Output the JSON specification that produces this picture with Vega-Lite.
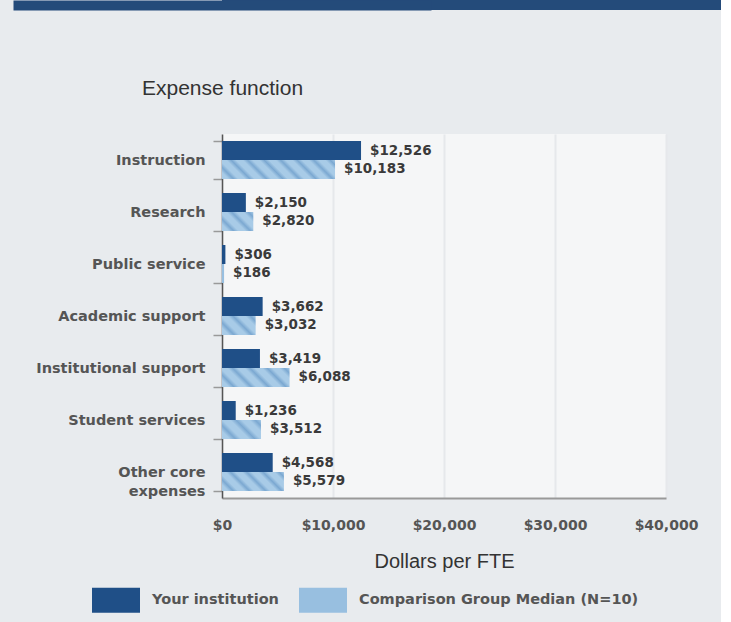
{
  "$schema": "https://vega.github.io/schema/vega-lite/v6.json",
  "background": "#e8ebee",
  "padding": {"left": 13, "top": 0, "right": 0, "bottom": 10},
  "spacing": 68,
  "config": {"font": "DejaVu Sans"},
  "vconcat": [
    {
      "width": 499,
      "height": 10,
      "view": {"fill": "#244b7a", "stroke": null},
      "data": {"values": [{"k": 1}]},
      "mark": {"type": "point", "opacity": 0, "size": 0},
      "encoding": {
        "y": {"field": "k", "type": "quantitative",
              "axis": {"title": null, "labels": false, "ticks": false, "grid": false, "domain": true, "domainWidth": 418, "domainColor": "#244b7a"}}
      }
    },
    {
      "width": 444,
      "height": 364,
      "view": {"fill": "#f5f6f7", "stroke": null},
      "title": {"text": "Expense function", "anchor": "start", "frame": "group", "dx": -80, "offset": 27, "font": "Liberation Sans", "fontSize": 21, "fontWeight": "normal", "color": "#333333"},
      "data": {"values": [
        {"category": "Instruction", "series": "Your institution", "value": 12526},
        {"category": "Instruction", "series": "Comparison Group Median (N=10)", "value": 10183},
        {"category": "Research", "series": "Your institution", "value": 2150},
        {"category": "Research", "series": "Comparison Group Median (N=10)", "value": 2820},
        {"category": "Public service", "series": "Your institution", "value": 306},
        {"category": "Public service", "series": "Comparison Group Median (N=10)", "value": 186},
        {"category": "Academic support", "series": "Your institution", "value": 3662},
        {"category": "Academic support", "series": "Comparison Group Median (N=10)", "value": 3032},
        {"category": "Institutional support", "series": "Your institution", "value": 3419},
        {"category": "Institutional support", "series": "Comparison Group Median (N=10)", "value": 6088},
        {"category": "Student services", "series": "Your institution", "value": 1236},
        {"category": "Student services", "series": "Comparison Group Median (N=10)", "value": 3512},
        {"category": "Other core expenses", "series": "Your institution", "value": 4568},
        {"category": "Other core expenses", "series": "Comparison Group Median (N=10)", "value": 5579}
      ]},
      "encoding": {
        "y": {
          "field": "category", "type": "nominal",
          "sort": ["Instruction", "Research", "Public service", "Academic support", "Institutional support", "Student services", "Other core expenses"],
          "scale": {"paddingInner": 0.27, "paddingOuter": 0.135},
          "axis": {
            "title": null, "grid": false,
            "domainColor": "#555555", "domainWidth": 1.5,
            "ticks": true, "tickBand": "extent", "tickSize": 9, "tickColor": "#999999", "tickWidth": 1.5,
            "labelPadding": 8, "labelFont": "DejaVu Sans", "labelFontSize": 14.5, "labelFontWeight": "bold", "labelColor": "#555555",
            "labelExpr": "datum.label == 'Other core expenses' ? ['Other core', 'expenses'] : datum.label",
            "labelLineHeight": 19, "labelLimit": 300, "minExtent": 209
          }
        },
        "yOffset": {
          "field": "series", "type": "nominal",
          "sort": ["Your institution", "Comparison Group Median (N=10)"],
          "scale": {"paddingInner": 0, "paddingOuter": 0}
        },
        "x": {
          "field": "value", "type": "quantitative",
          "scale": {"domain": [0, 40000], "nice": false},
          "axis": {
            "title": "Dollars per FTE", "values": [0, 10000, 20000, 30000, 40000], "format": "$,.0f",
            "grid": true, "gridColor": "#e6e8eb", "gridWidth": 2, "ticks": false,
            "domainColor": "#999999", "domainWidth": 2,
            "labelPadding": 20, "labelFont": "DejaVu Sans", "labelFontSize": 14, "labelFontWeight": "bold", "labelColor": "#555555", "labelFlush": false,
            "titleFont": "Liberation Sans", "titleFontSize": 20, "titleFontWeight": "normal", "titleColor": "#333333", "titlePadding": 19
          }
        }
      },
      "layer": [
        {
          "mark": {"type": "bar", "strokeWidth": 0},
          "encoding": {
            "fill": {
              "condition": [
                {"test": "datum.series === 'Comparison Group Median (N=10)' && datum.category === 'Instruction'",
                 "value": {"gradient": "linear", "x1": 0, "y1": 1, "x2": 1.136, "y2": 0.809, "stops": [
                   {"offset": 0, "color": "#a8cbe7"}, {"offset": 0.05, "color": "#a8cbe7"}, {"offset": 0.0875, "color": "#7ba8d1"}, {"offset": 0.125, "color": "#a8cbe7"},
                   {"offset": 0.175, "color": "#a8cbe7"}, {"offset": 0.2125, "color": "#7ba8d1"}, {"offset": 0.25, "color": "#a8cbe7"},
                   {"offset": 0.3, "color": "#a8cbe7"}, {"offset": 0.3375, "color": "#7ba8d1"}, {"offset": 0.375, "color": "#a8cbe7"},
                   {"offset": 0.425, "color": "#a8cbe7"}, {"offset": 0.4625, "color": "#7ba8d1"}, {"offset": 0.5, "color": "#a8cbe7"},
                   {"offset": 0.55, "color": "#a8cbe7"}, {"offset": 0.5875, "color": "#7ba8d1"}, {"offset": 0.625, "color": "#a8cbe7"},
                   {"offset": 0.675, "color": "#a8cbe7"}, {"offset": 0.7125, "color": "#7ba8d1"}, {"offset": 0.75, "color": "#a8cbe7"},
                   {"offset": 0.8, "color": "#a8cbe7"}, {"offset": 0.8375, "color": "#7ba8d1"}, {"offset": 0.875, "color": "#a8cbe7"},
                   {"offset": 0.925, "color": "#a8cbe7"}, {"offset": 0.9625, "color": "#7ba8d1"}, {"offset": 1, "color": "#a8cbe7"}]}},
                {"test": "datum.series === 'Comparison Group Median (N=10)' && datum.category === 'Research'",
                 "value": {"gradient": "linear", "x1": 0, "y1": 1, "x2": 1.174, "y2": 0.287, "stops": [
                   {"offset": 0, "color": "#a8cbe7"}, {"offset": 0.1333, "color": "#a8cbe7"}, {"offset": 0.2333, "color": "#7ba8d1"}, {"offset": 0.3333, "color": "#a8cbe7"},
                   {"offset": 0.4667, "color": "#a8cbe7"}, {"offset": 0.5667, "color": "#7ba8d1"}, {"offset": 0.6667, "color": "#a8cbe7"},
                   {"offset": 0.8, "color": "#a8cbe7"}, {"offset": 0.9, "color": "#7ba8d1"}, {"offset": 1, "color": "#a8cbe7"}]}},
                {"test": "datum.series === 'Comparison Group Median (N=10)' && datum.category === 'Academic support'",
                 "value": {"gradient": "linear", "x1": 0, "y1": 1, "x2": 1.187, "y2": 0.331, "stops": [
                   {"offset": 0, "color": "#a8cbe7"}, {"offset": 0.1333, "color": "#a8cbe7"}, {"offset": 0.2333, "color": "#7ba8d1"}, {"offset": 0.3333, "color": "#a8cbe7"},
                   {"offset": 0.4667, "color": "#a8cbe7"}, {"offset": 0.5667, "color": "#7ba8d1"}, {"offset": 0.6667, "color": "#a8cbe7"},
                   {"offset": 0.8, "color": "#a8cbe7"}, {"offset": 0.9, "color": "#7ba8d1"}, {"offset": 1, "color": "#a8cbe7"}]}},
                {"test": "datum.series === 'Comparison Group Median (N=10)' && datum.category === 'Institutional support'",
                 "value": {"gradient": "linear", "x1": 0, "y1": 1, "x2": 1.187, "y2": 0.666, "stops": [
                   {"offset": 0, "color": "#a8cbe7"}, {"offset": 0.08, "color": "#a8cbe7"}, {"offset": 0.14, "color": "#7ba8d1"}, {"offset": 0.2, "color": "#a8cbe7"},
                   {"offset": 0.28, "color": "#a8cbe7"}, {"offset": 0.34, "color": "#7ba8d1"}, {"offset": 0.4, "color": "#a8cbe7"},
                   {"offset": 0.48, "color": "#a8cbe7"}, {"offset": 0.54, "color": "#7ba8d1"}, {"offset": 0.6, "color": "#a8cbe7"},
                   {"offset": 0.68, "color": "#a8cbe7"}, {"offset": 0.74, "color": "#7ba8d1"}, {"offset": 0.8, "color": "#a8cbe7"},
                   {"offset": 0.88, "color": "#a8cbe7"}, {"offset": 0.94, "color": "#7ba8d1"}, {"offset": 1, "color": "#a8cbe7"}]}},
                {"test": "datum.series === 'Comparison Group Median (N=10)' && datum.category === 'Student services'",
                 "value": {"gradient": "linear", "x1": 0, "y1": 1, "x2": 1.202, "y2": 0.414, "stops": [
                   {"offset": 0, "color": "#a8cbe7"}, {"offset": 0.1333, "color": "#a8cbe7"}, {"offset": 0.2333, "color": "#7ba8d1"}, {"offset": 0.3333, "color": "#a8cbe7"},
                   {"offset": 0.4667, "color": "#a8cbe7"}, {"offset": 0.5667, "color": "#7ba8d1"}, {"offset": 0.6667, "color": "#a8cbe7"},
                   {"offset": 0.8, "color": "#a8cbe7"}, {"offset": 0.9, "color": "#7ba8d1"}, {"offset": 1, "color": "#a8cbe7"}]}},
                {"test": "datum.series === 'Comparison Group Median (N=10)' && datum.category === 'Other core expenses'",
                 "value": {"gradient": "linear", "x1": 0, "y1": 1, "x2": 1.194, "y2": 0.633, "stops": [
                   {"offset": 0, "color": "#a8cbe7"}, {"offset": 0.08, "color": "#a8cbe7"}, {"offset": 0.14, "color": "#7ba8d1"}, {"offset": 0.2, "color": "#a8cbe7"},
                   {"offset": 0.28, "color": "#a8cbe7"}, {"offset": 0.34, "color": "#7ba8d1"}, {"offset": 0.4, "color": "#a8cbe7"},
                   {"offset": 0.48, "color": "#a8cbe7"}, {"offset": 0.54, "color": "#7ba8d1"}, {"offset": 0.6, "color": "#a8cbe7"},
                   {"offset": 0.68, "color": "#a8cbe7"}, {"offset": 0.74, "color": "#7ba8d1"}, {"offset": 0.8, "color": "#a8cbe7"},
                   {"offset": 0.88, "color": "#a8cbe7"}, {"offset": 0.94, "color": "#7ba8d1"}, {"offset": 1, "color": "#a8cbe7"}]}}
              ],
              "field": "series", "type": "nominal",
              "sort": ["Your institution", "Comparison Group Median (N=10)"],
              "scale": {"domain": ["Your institution", "Comparison Group Median (N=10)"], "range": ["#1f4f87", "#98bfe0"]},
              "legend": {
                "title": null, "orient": "none", "legendX": -130, "legendY": 576, "direction": "horizontal",
                "symbolType": "M-1,-0.52H1V0.52H-1Z", "symbolSize": 2304, "symbolStrokeWidth": 0, "symbolOpacity": 1,
                "labelFont": "DejaVu Sans", "labelFontSize": 14.5, "labelFontWeight": "bold", "labelColor": "#555555",
                "labelOffset": 12, "columnPadding": 20, "labelLimit": 400
              }
            }
          }
        },
        {
          "mark": {"type": "text", "align": "left", "baseline": "middle", "dx": 9, "font": "DejaVu Sans", "fontSize": 13.5, "fontWeight": "bold", "fill": "#3a3a3a"},
          "encoding": {
            "text": {"field": "value", "type": "quantitative", "format": "$,.0f"}
          }
        }
      ]
    }
  ]
}
